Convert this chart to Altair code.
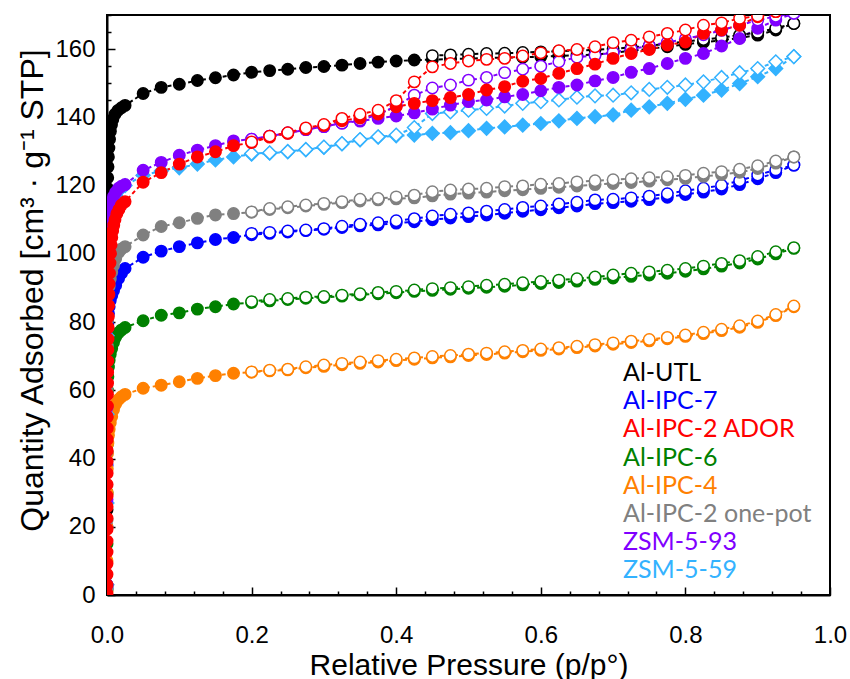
import altair as alt
import pandas as pd

# ---------------- data ----------------
SERIES = ["Al-UTL", "Al-IPC-7", "Al-IPC-2 ADOR", "Al-IPC-6", "Al-IPC-4",
          "Al-IPC-2 one-pot", "ZSM-5-93", "ZSM-5-59"]
COLORS = ["#000000", "#0000FF", "#FF0000", "#008000", "#FF8000",
          "#808080", "#8000FF", "#33B2FF"]
SHAPES = ["circle", "circle", "circle", "circle", "circle", "circle", "circle", "diamond"]
DRAW_ORDER = ["Al-UTL", "Al-IPC-7", "Al-IPC-6", "Al-IPC-4", "Al-IPC-2 one-pot",
              "ZSM-5-59", "ZSM-5-93", "Al-IPC-2 ADOR"]

P_GRID = [0.025, 0.05, 0.075, 0.1, 0.125, 0.15, 0.175, 0.2, 0.225, 0.25, 0.275, 0.3,
          0.325, 0.35, 0.375, 0.4, 0.425, 0.45, 0.475, 0.5, 0.525, 0.55, 0.575, 0.6,
          0.625, 0.65, 0.675, 0.7, 0.725, 0.75, 0.775, 0.8, 0.825, 0.85, 0.875, 0.9,
          0.925, 0.95]
P_DES = [0.2, 0.225, 0.25, 0.275, 0.3, 0.325, 0.35, 0.375, 0.4, 0.425, 0.45, 0.475,
         0.5, 0.525, 0.55, 0.575, 0.6, 0.625, 0.65, 0.675, 0.7, 0.725, 0.75, 0.775,
         0.8, 0.825, 0.85, 0.875, 0.9, 0.925, 0.95]
P_DES_UTL = [0.45, 0.475, 0.5, 0.525, 0.55, 0.575, 0.6, 0.625, 0.65, 0.675, 0.7,
             0.725, 0.75, 0.775, 0.8, 0.825, 0.85, 0.875, 0.9, 0.925, 0.95]
LOW_P = [0.00001, 0.00005, 0.0001, 0.0002, 0.0004, 0.0007, 0.0012, 0.002, 0.003,
         0.0045, 0.0065, 0.009, 0.012, 0.016, 0.02]

# Al-UTL
UTL_LOW_P = [0.00001, 0.00003, 0.00006, 0.0001, 0.00015, 0.0002, 0.0003, 0.0004,
             0.00055, 0.00075, 0.001, 0.0014, 0.0019, 0.0026, 0.0035, 0.0047, 0.0062,
             0.008, 0.011, 0.015, 0.02]
UTL_LOW_V = [3.0, 25.0, 52.0, 78.0, 96.0, 104.5, 109.0, 112.5, 116.0, 119.2, 122.3,
             125.5, 128.4, 131.0, 133.6, 135.9, 137.8, 139.4, 140.9, 142.0, 142.8]
UTL_ADS = [143.5, 147.0, 148.8, 149.7, 150.8, 151.6, 152.4, 153.2, 153.7, 154.1, 154.6,
           154.9, 155.3, 155.8, 156.2, 156.5, 156.8, 156.9, 157.1, 157.2, 157.4, 157.5,
           157.6, 157.8, 158.0, 158.2, 158.4, 158.9, 159.5, 160.1, 160.7, 161.4, 162.0,
           162.6, 163.3, 164.1, 165.6, 167.5]
UTL_DES = [158.1, 158.3, 158.5, 158.7, 158.8, 159.0, 159.2, 159.4, 159.6, 159.8, 160.1,
           160.5, 161.0, 161.6, 162.2, 162.8, 163.4, 164.1, 164.9, 166.1, 167.5]

# Al-IPC-7
IPC7_LOW_V = [2.0, 20.0, 38.0, 55.0, 68.0, 75.0, 79.5, 82.5, 84.5, 86.3, 87.8, 89.2,
              90.8, 92.8, 94.3]
IPC7_ADS = [95.7, 99.0, 100.8, 102.1, 103.2, 104.2, 104.8, 105.6, 106.0, 106.4, 106.8,
            107.2, 107.7, 108.2, 108.5, 109.0, 109.4, 110.0, 110.5, 110.9, 111.4, 111.9,
            112.5, 112.9, 113.5, 114.0, 114.7, 115.0, 115.4, 115.9, 116.6, 117.4, 118.1,
            119.0, 120.3, 122.0, 123.8, 126.0]
IPC7_DES = [106.0, 106.3, 106.7, 107.0, 107.4, 108.1, 108.7, 109.1, 109.7, 110.3, 111.1,
            111.6, 112.0, 112.5, 113.0, 113.6, 114.0, 114.6, 115.1, 115.8, 116.0, 116.4,
            116.9, 117.6, 118.5, 119.2, 120.1, 121.4, 123.1, 124.6, 126.0]

# Al-IPC-2 ADOR
ADOR_LOW_P = [0.00001, 0.00002, 0.00003, 0.00004, 0.00005, 0.00006, 0.00008, 0.0001,
              0.00012, 0.00014, 0.00017, 0.0002, 0.00024, 0.00028, 0.00033, 0.0004,
              0.00047, 0.00055, 0.00065, 0.00077, 0.0009, 0.00105, 0.0012, 0.0014,
              0.0016, 0.0019, 0.0022, 0.0026, 0.003, 0.0035, 0.0041, 0.0048, 0.0056,
              0.0066, 0.0078, 0.0093, 0.011, 0.0135, 0.0165, 0.02]
ADOR_LOW_V = [0.4, 2.9, 6.1, 9.2, 12.6, 15.8, 19.3, 22.5, 25.9, 29.0, 32.4, 35.7, 39.1,
              42.3, 45.6, 48.9, 52.2, 55.4, 58.8, 62.1, 65.3, 68.6, 71.9, 75.0, 78.4,
              81.6, 84.8, 88.1, 91.2, 94.3, 97.3, 100.1, 102.6, 104.8, 106.7, 108.4,
              110.0, 111.7, 113.0, 114.3]
ADOR_ADS = [115.3, 121.0, 123.8, 126.3, 128.4, 129.9, 131.7, 132.6, 134.2, 135.3, 136.6,
            137.6, 139.0, 139.8, 141.0, 143.1, 144.1, 144.9, 145.8, 146.7, 148.0, 149.0,
            150.6, 151.4, 152.9, 154.3, 155.6, 157.3, 158.7, 159.9, 161.2, 162.1, 164.6,
            165.6, 167.0, 169.5, 171.0, 172.5]
ADOR_DES = [132.8, 134.5, 135.5, 136.9, 137.9, 139.7, 140.9, 142.1, 144.9, 150.4, 154.8,
            155.8, 156.5, 157.0, 157.3, 158.0, 158.9, 159.5, 159.9, 160.7, 161.9, 162.6,
            163.6, 164.6, 165.6, 167.0, 167.7, 169.0, 169.7, 171.0, 172.5]

# Al-IPC-6
IPC6_LOW_V = [1.5, 15.0, 30.0, 44.0, 54.0, 60.0, 64.0, 66.8, 68.8, 70.6, 72.3, 74.0,
              75.6, 76.9, 77.7]
IPC6_ADS = [78.4, 80.4, 82.0, 82.7, 83.8, 84.5, 85.3, 85.7, 86.2, 86.6, 87.0, 87.2, 87.6,
            88.0, 88.3, 88.6, 89.0, 89.3, 89.6, 89.9, 90.2, 90.5, 90.9, 91.3, 91.6, 92.0,
            92.5, 92.9, 93.4, 93.8, 94.3, 94.9, 95.6, 96.4, 97.3, 98.5, 100.0, 101.6]
IPC6_DES = [86.0, 86.6, 86.9, 87.3, 87.5, 87.9, 88.3, 88.7, 89.0, 89.4, 89.8, 90.1, 90.4,
            90.8, 91.1, 91.5, 91.9, 92.3, 92.7, 93.2, 93.8, 94.3, 94.7, 95.2, 95.7, 96.4,
            97.2, 98.0, 99.2, 100.6, 101.8]

# Al-IPC-4
IPC4_LOW_V = [1.0, 10.0, 20.0, 30.0, 37.0, 41.5, 44.5, 46.8, 48.6, 50.4, 52.3, 54.3,
              56.0, 57.3, 58.1]
IPC4_ADS = [58.8, 60.6, 61.5, 62.5, 63.5, 64.3, 65.0, 65.3, 65.7, 66.0, 66.6, 67.0, 67.5,
            67.9, 68.3, 68.7, 69.1, 69.5, 69.8, 70.2, 70.5, 70.9, 71.3, 71.7, 72.1, 72.5,
            73.0, 73.5, 74.0, 74.5, 75.1, 75.8, 76.6, 77.5, 78.5, 79.9, 81.9, 84.5]
IPC4_DES = [65.4, 65.9, 66.2, 66.9, 67.4, 67.9, 68.3, 68.7, 69.1, 69.5, 69.9, 70.2, 70.6,
            70.9, 71.3, 71.7, 72.1, 72.5, 72.9, 73.4, 73.9, 74.4, 74.9, 75.5, 76.2, 77.0,
            77.9, 78.9, 80.3, 82.2, 84.7]

# Al-IPC-2 one-pot
ONEPOT_LOW_V = [2.0, 22.0, 42.0, 60.0, 73.0, 80.5, 85.0, 88.2, 90.5, 92.6, 94.6, 96.6,
                98.6, 100.4, 101.4]
ONEPOT_ADS = [102.1, 105.5, 108.0, 109.1, 110.4, 111.4, 111.8, 112.2, 113.0, 113.5,
              114.0, 114.5, 115.0, 115.5, 115.8, 116.1, 116.4, 117.0, 117.5, 117.8,
              118.1, 118.5, 118.8, 119.2, 119.5, 119.9, 120.3, 120.6, 120.9, 121.3,
              121.7, 122.1, 122.7, 123.2, 123.9, 125.0, 126.6, 128.4]
ONEPOT_DES = [112.3, 113.3, 113.8, 114.3, 114.8, 115.3, 116.0, 116.2, 116.7, 117.2,
              118.2, 118.7, 119.0, 119.2, 119.7, 119.9, 120.4, 120.6, 121.1, 121.4,
              121.7, 122.0, 122.3, 122.6, 123.0, 123.6, 124.1, 124.8, 125.8, 127.2, 128.4]

# ZSM-5-93
Z93_LOW_V = [3.0, 28.0, 55.0, 78.0, 94.0, 102.0, 106.5, 109.5, 111.7, 113.6, 115.3,
             116.8, 118.0, 119.2, 119.8]
Z93_ADS = [120.3, 124.5, 126.8, 128.9, 130.4, 131.7, 133.1, 133.6, 134.5, 135.4, 136.4,
           137.3, 138.3, 138.9, 139.7, 140.4, 141.3, 142.4, 143.6, 144.6, 145.1, 146.0,
           146.7, 147.8, 148.8, 149.5, 150.7, 151.7, 153.2, 154.3, 155.8, 157.3, 158.7,
           160.9, 163.1, 166.1, 168.5, 170.5]
Z93_DES = [133.6, 134.5, 135.4, 136.4, 137.3, 138.3, 139.2, 140.8, 143.3, 146.5, 148.6,
           149.5, 150.9, 151.7, 153.1, 154.1, 155.0, 156.3, 157.6, 158.2, 159.0, 160.0,
           161.0, 162.0, 163.0, 164.2, 165.5, 167.0, 168.5, 169.6, 170.5]

# ZSM-5-59
Z59_LOW_V = [3.0, 27.0, 53.0, 76.0, 92.0, 100.5, 105.0, 108.2, 110.5, 112.5, 114.2,
             115.8, 117.2, 118.5, 119.4]
Z59_ADS = [120.0, 123.0, 124.3, 125.2, 126.3, 127.5, 128.4, 129.2, 129.5, 129.9, 130.5,
           131.2, 132.2, 133.4, 134.2, 134.6, 134.8, 135.3, 135.5, 136.1, 136.8, 137.2,
           137.7, 138.2, 139.0, 139.7, 140.2, 140.7, 142.1, 143.1, 144.1, 145.3, 146.5,
           148.0, 149.9, 151.9, 154.3, 157.8]
Z59_DES = [129.4, 129.6, 130.0, 130.6, 131.3, 132.3, 133.5, 134.3, 134.8, 137.0, 141.1,
           141.6, 142.1, 142.6, 143.3, 144.1, 144.6, 145.1, 145.9, 146.3, 146.5, 147.2,
           148.2, 148.8, 149.5, 150.4, 151.7, 153.1, 154.3, 156.3, 157.8]

CURVES = {
    "Al-UTL": (UTL_LOW_P, UTL_LOW_V, UTL_ADS, P_DES_UTL, UTL_DES),
    "Al-IPC-7": (LOW_P, IPC7_LOW_V, IPC7_ADS, P_DES, IPC7_DES),
    "Al-IPC-2 ADOR": (ADOR_LOW_P, ADOR_LOW_V, ADOR_ADS, P_DES, ADOR_DES),
    "Al-IPC-6": (LOW_P, IPC6_LOW_V, IPC6_ADS, P_DES, IPC6_DES),
    "Al-IPC-4": (LOW_P, IPC4_LOW_V, IPC4_ADS, P_DES, IPC4_DES),
    "Al-IPC-2 one-pot": (LOW_P, ONEPOT_LOW_V, ONEPOT_ADS, P_DES, ONEPOT_DES),
    "ZSM-5-93": (LOW_P, Z93_LOW_V, Z93_ADS, P_DES, Z93_DES),
    "ZSM-5-59": (LOW_P, Z59_LOW_V, Z59_ADS, P_DES, Z59_DES),
}

rows = []
for name in DRAW_ORDER:
    lp, lv, ads, dp, dv = CURVES[name]
    assert len(lp) == len(lv) and len(ads) == len(P_GRID) and len(dp) == len(dv)
    for i, (p, v) in enumerate(zip(list(lp) + P_GRID, list(lv) + ads)):
        rows.append({"series": name, "p": p, "v": v, "kind": "ads",
                     "curve": name + "|ads", "seq": i})
    for i, (p, v) in enumerate(zip(dp, dv)):
        rows.append({"series": name, "p": p, "v": v, "kind": "des",
                     "curve": name + "|des", "seq": i})
df = pd.DataFrame(rows)
df["row"] = range(len(df))

legend_df = pd.DataFrame({"series": SERIES, "idx": list(range(len(SERIES)))})

# ---------------- styling ----------------
W, H = 723, 580
FONT = "Liberation Sans"
color_scale = alt.Scale(domain=SERIES, range=COLORS)
xs = alt.Scale(domain=[0, 1], nice=False, zero=False, padding=0)
ys = alt.Scale(domain=[0, 170], nice=False, zero=False, padding=0)

x_major = [0, 0.2, 0.4, 0.6, 0.8, 1.0]
x_minor = [round(i * 0.04, 2) for i in range(26) if i % 5]
y_major = list(range(0, 161, 20))
y_minor = [i for i in range(5, 171, 5) if i % 20]

x_main_axis = alt.Axis(values=x_major, format=".1f", ticks=False, tickSize=0,
                       labelPadding=28, labelFontSize=24, labelFont=FONT,
                       labelFlush=False, labelOverlap=False,
                       labelColor="black", domain=True, domainColor="black",
                       domainWidth=2, grid=False, title="Relative Pressure (p/p°)",
                       titleFont=FONT, titleFontSize=30, titleFontWeight="normal",
                       titleColor="black", titleY=79, titleBaseline="alphabetic")
y_main_axis = alt.Axis(values=y_major, format="d", ticks=False, tickSize=0,
                       labelPadding=12, labelFontSize=24, labelFont=FONT,
                       labelFlush=False, labelOverlap=False,
                       labelColor="black", domain=True, domainColor="black",
                       domainWidth=2, grid=False,
                       title="Quantity Adsorbed [cm³ · g⁻¹ STP]",
                       titleFont=FONT, titleFontSize=32, titleFontWeight="normal",
                       titleColor="black", titleX=-65, titleY=275,
                       titleAlign="center", titleBaseline="alphabetic", titleAngle=270)


def tick_axis(orient, offset, values, size):
    return alt.Axis(orient=orient, offset=offset, values=values, labels=False,
                    domain=False, ticks=True, tickSize=size, tickWidth=1.5,
                    tickColor="black", grid=False, title=None)


line_base = alt.Chart(df).mark_line(strokeDash=[4, 3], strokeWidth=2, clip=True)

ads_lines = line_base.transform_filter(alt.datum.kind == "ads").encode(
    x=alt.X("p:Q", scale=xs, axis=x_main_axis),
    y=alt.Y("v:Q", scale=ys, axis=y_main_axis),
    color=alt.Color("series:N", scale=color_scale, legend=None),
    detail="curve:N",
    order=alt.Order("seq:Q"),
)

des_lines = line_base.transform_filter(alt.datum.kind == "des").encode(
    x=alt.X("p:Q", scale=xs, axis=tick_axis("top", -H, x_minor, 4)),
    y=alt.Y("v:Q", scale=ys, axis=tick_axis("right", -W, y_minor, 4)),
    color=alt.Color("series:N", scale=color_scale, legend=None),
    detail="curve:N",
    order=alt.Order("seq:Q"),
)

points = alt.Chart(df).transform_calculate(
    msize="datum.series == 'ZSM-5-59' ? 185 : 130"
).mark_point(filled=True, opacity=1, strokeWidth=1.5, clip=True).encode(
    x=alt.X("p:Q", scale=xs, axis=tick_axis("top", -H, x_major, 8)),
    y=alt.Y("v:Q", scale=ys, axis=tick_axis("right", -W, y_major, 8)),
    fill=alt.condition(alt.datum.kind == "ads",
                       alt.Fill("series:N", scale=color_scale, legend=None),
                       alt.value("white")),
    stroke=alt.Stroke("series:N", scale=color_scale, legend=None),
    shape=alt.Shape("series:N", scale=alt.Scale(domain=SERIES, range=SHAPES), legend=None),
    size=alt.Size("msize:Q", scale=None),
    order=alt.Order("row:Q"),
)

legend = alt.Chart(legend_df).transform_calculate(
    ly="358 + datum.idx * 28.2"
).mark_text(align="left", baseline="middle", font="Lato", fontSize=25).encode(
    x=alt.value(516),
    y=alt.Y("ly:Q", scale=None, axis=None),
    text="series:N",
    color=alt.Color("series:N", scale=color_scale, legend=None),
)

chart = alt.layer(ads_lines, des_lines, points, legend).resolve_scale(
    x="shared", y="shared"
).resolve_axis(
    x="independent", y="independent"
).properties(
    width=W, height=H,
    autosize=alt.AutoSizeParams(type="none"),
    padding={"left": 107, "top": 15, "right": 20, "bottom": 84},
    background="white",
).configure_view(stroke="black", strokeWidth=2)

chart.save("out.html", embed_options={"renderer": "svg", "actions": False})
